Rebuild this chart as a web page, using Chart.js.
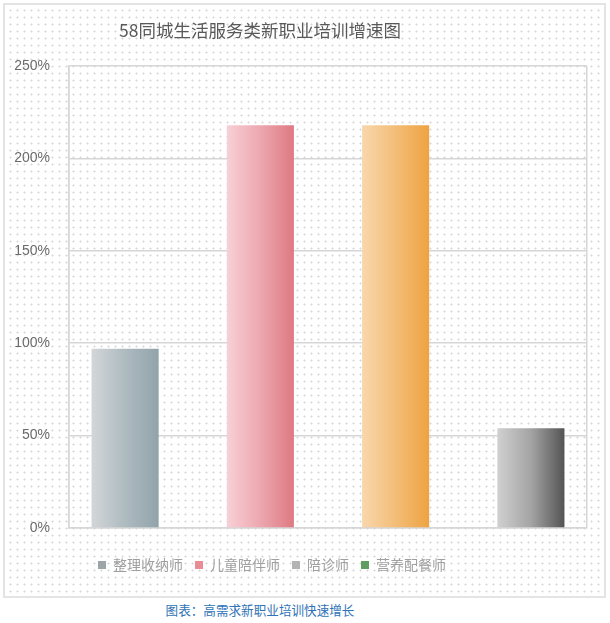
<!DOCTYPE html>
<html>
<head>
<meta charset="utf-8">
<script src="https://cdn.jsdelivr.net/npm/chart.js@4"></script>
<style>
  html, body { margin: 0; padding: 0; background: #ffffff; }
  #page { position: relative; width: 610px; height: 623px; overflow: hidden; }
  #box {
    position: absolute; left: 3px; top: 3px; width: 599px; height: 591px;
    border: 2px solid #e4e4e4;
    background-color: #ffffff;
    background-image: radial-gradient(circle, #d9d9d9 0.8px, rgba(255,255,255,0) 1.3px);
    background-size: 7px 7px;
    background-position: 2px 2px;
  }
  #wrap { position: absolute; left: 0; top: 0; width: 610px; height: 600px; }
  #caption {
    position: absolute; top: 601px; left: 0; width: 520px; text-align: center;
    font-family: "Noto Sans CJK SC", sans-serif; font-size: 12.6px; color: #2f73b6;
    line-height: 18px;
  }
</style>
</head>
<body>
<div id="page">
  <div id="box"></div>
  <div id="wrap"><canvas id="c"></canvas></div>
  <div id="caption">图表：高需求新职业培训快速增长</div>
</div>
<script>
// ---- data ----
const chartTitle = '58同城生活服务类新职业培训增速图';
const categories = ['整理收纳师', '儿童陪伴师', '陪诊师', '营养配餐师'];
const growthPct = [97, 218, 218, 54];
const yTickValues = [0, 50, 100, 150, 200, 250];
const xLabels = [''];

// ---- styles ----
const barStops = [
  ['#d3d6d8', '#aebbc0', '#91a3aa'],
  ['#f8d0d7', '#eda7af', '#de7982'],
  ['#f8d7ad', '#f3bd77', '#eea342'],
  ['#d0d0d0', '#a4a4a4', '#545454']
];
const legendColors = ['#9ca5a9', '#e98c95', '#b3b3b3', '#5f9c5f'];
const catPct = 1.0445;
const barPct = 0.496;

function barGradient(ctx) {
  const chart = ctx.chart;
  const i = ctx.datasetIndex;
  const xs = chart.scales && chart.scales.x;
  if (!chart.chartArea || !xs) return barStops[i][1];
  const center = xs.getPixelForValue(0);
  const thickness = xs.width / xLabels.length;
  const size = thickness * catPct;
  const slot = size / categories.length;
  const left = center - size / 2 + slot * i + slot * (1 - barPct) / 2;
  const w = slot * barPct;
  const g = chart.ctx.createLinearGradient(left, 0, left + w, 0);
  g.addColorStop(0, barStops[i][0]);
  g.addColorStop(0.5, barStops[i][1]);
  g.addColorStop(1, barStops[i][2]);
  return g;
}

const datasets = categories.map((name, i) => ({
  label: name,
  data: [growthPct[i]],
  backgroundColor: barGradient,
  borderWidth: 0,
  categoryPercentage: catPct,
  barPercentage: barPct
}));

// shift title / legend horizontally like the reference
const placeBlocks = {
  id: 'placeBlocks',
  afterLayout(chart) {
    if (chart.titleBlock) {
      chart.titleBlock.left = 0;
      chart.titleBlock.right = 520;
    }
    if (chart.legend) {
      const pad = chart.legend.options.labels.padding;
      chart.legend.left = 98 - pad;
      chart.legend.right = 600;
    }
  }
};

const gridColor = '#d6d6d6';

new Chart(document.getElementById('c'), {
  type: 'bar',
  data: { labels: xLabels, datasets },
  plugins: [placeBlocks],
  options: {
    responsive: true,
    maintainAspectRatio: false,
    animation: false,
    layout: { padding: { top: 0, left: 0, right: 23, bottom: 18 } },
    plugins: {
      title: {
        display: true,
        text: chartTitle,
        color: '#595959',
        font: { family: '"Noto Sans CJK SC", sans-serif', size: 17.5, weight: 'normal' },
        padding: { top: 20, bottom: 25 }
      },
      legend: {
        display: true,
        position: 'bottom',
        align: 'start',
        labels: {
          boxWidth: 8,
          boxHeight: 8,
          padding: 12,
          color: '#a0a0a0',
          font: { family: '"Noto Sans CJK SC", sans-serif', size: 14 },
          generateLabels: (chart) => categories.map((name, i) => ({
            text: name,
            fillStyle: legendColors[i],
            strokeStyle: legendColors[i],
            lineWidth: 0,
            hidden: false,
            datasetIndex: i,
            fontColor: '#a0a0a0'
          }))
        }
      },
      tooltip: { enabled: false }
    },
    scales: {
      x: {
        offset: true,
        grid: { display: true, offset: true, color: gridColor, lineWidth: 1.5, drawTicks: false },
        border: { display: true, color: gridColor, width: 1.5 },
        ticks: { display: false },
        afterFit: (s) => { s.height = 18; }
      },
      y: {
        min: 0,
        max: 250,
        afterBuildTicks: (s) => { s.ticks = yTickValues.map(v => ({ value: v })); },
        grid: { color: gridColor, lineWidth: 1.5, drawTicks: false },
        border: { display: true, color: gridColor, width: 1.5 },
        ticks: {
          padding: 19,
          color: '#6b6b6b',
          font: { family: '"Liberation Sans", sans-serif', size: 14 },
          callback: (v) => v + '%'
        },
        afterFit: (s) => { s.width = 69; }
      }
    }
  }
});
</script>
</body>
</html>
